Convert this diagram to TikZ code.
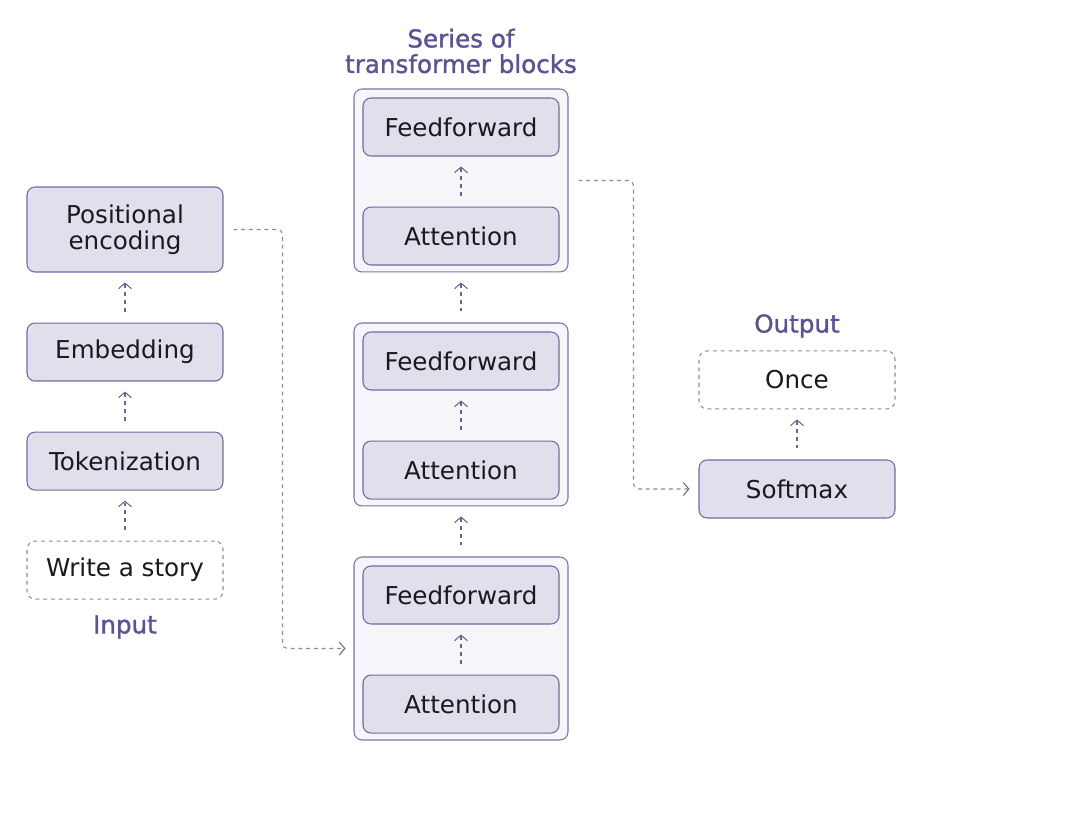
\documentclass[tikz,border=0pt]{standalone}
\usepackage{fontspec}
\setmainfont{DejaVu Sans}
\newfontfamily\tagfont[FakeBold=1.3]{DejaVu Sans}
\usetikzlibrary{arrows.meta, positioning, calc}

\definecolor{boxfill}{RGB}{225,223,236}
\definecolor{boxline}{RGB}{112,106,160}
\definecolor{blockfill}{RGB}{246,245,250}
\definecolor{blockline}{RGB}{122,117,168}
\definecolor{tagcol}{RGB}{91,84,145}
\definecolor{dashgray}{RGB}{140,140,145}
\definecolor{arrcol}{RGB}{105,100,140}
\definecolor{ink}{RGB}{25,25,30}

\begin{document}
\begin{tikzpicture}[
        x=0.02cm, y=-0.02cm,
        box/.style={draw=boxline, fill=boxfill, rounded corners=0.16cm, line width=0.6pt, minimum width=3.92cm, minimum height=1.16cm, align=center, text=ink, font=\fontsize{14}{14.5}\selectfont},
        promptbox/.style={box, draw=dashgray, fill=white, dash pattern=on 2.2pt off 2.2pt},
        block/.style={draw=blockline, fill=blockfill, rounded corners=0.16cm, line width=0.6pt, minimum width=4.28cm, minimum height=3.66cm},
        tag/.style={text=tagcol, align=center, font=\tagfont\fontsize{14}{14.5}\selectfont},
        uparr/.style={draw=arrcol, line width=0.6pt, dash pattern=on 2.2pt off 2.2pt, -{Straight Barb[length=1.1mm, width=2.6mm]}, shorten <=0.22cm, shorten >=0.2cm},
        link/.style={draw=dashgray, line width=0.6pt, dash pattern=on 2.2pt off 2.2pt, rounded corners=0.1cm, -{Straight Barb[length=1.1mm, width=2.6mm, color=arrcol]}},
        node distance=1cm
    ]
        \useasboundingbox (0,0) rectangle (1080,824);

        % input column
        \node[box, minimum height=1.7cm] (pe) at (125,229.5) {Positional\\encoding};
        \node[box, below=of pe] (emb) {Embedding};
        \node[box, below=of emb] (tok) {Tokenization};
        \node[promptbox, below=of tok] (prompt) {Write a story};
        \node[tag] (inlabel) at (125,627) {Input};

        \draw[uparr] (prompt) -- (tok);
        \draw[uparr] (tok) -- (emb);
        \draw[uparr] (emb) -- (pe);

        % transformer blocks
        \node[block] (blkA) at (461,648.5) {};
        \node[block, above=of blkA] (blkB) {};
        \node[block, above=of blkB] (blkC) {};
        \node[tag] (title) at (461,51) {Series of\\transformer blocks};

        \node[box, below=0.18cm of blkA.north] (ffA) {Feedforward};
        \node[box, below=of ffA] (attA) {Attention};
        \node[box, below=0.18cm of blkB.north] (ffB) {Feedforward};
        \node[box, below=of ffB] (attB) {Attention};
        \node[box, below=0.18cm of blkC.north] (ffC) {Feedforward};
        \node[box, below=of ffC] (attC) {Attention};

        \draw[uparr] (attA) -- (ffA);
        \draw[uparr] (attB) -- (ffB);
        \draw[uparr] (attC) -- (ffC);
        \draw[uparr] (blkA) -- (blkB);
        \draw[uparr] (blkB) -- (blkC);

        % output column
        \node[box] (soft) at (797,489) {Softmax};
        \node[promptbox, above=of soft] (once) {Once};
        \node[tag] (outlabel) at (797,326) {Output};
        \draw[uparr] (soft) -- (once);

        \draw[link] ([xshift=0.2cm]pe.east) -- ++(49,0) |- ([xshift=-0.16cm]blkA.west);
        \draw[link] ([xshift=0.2cm]blkC.east) -- ++(55,0) |- ([xshift=-0.18cm]soft.west);
    \end{tikzpicture}
\end{document}
